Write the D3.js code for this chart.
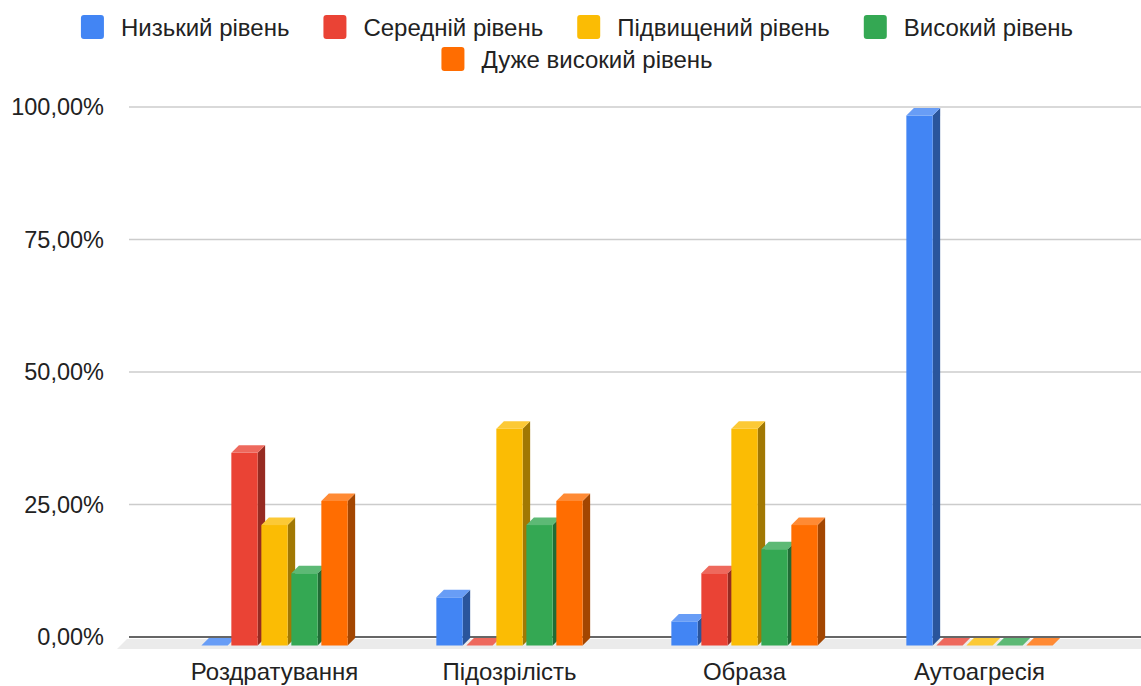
<!DOCTYPE html>
<html>
<head>
<meta charset="utf-8">
<script src="https://cdn.jsdelivr.net/npm/d3@7"></script>
<style>
  html, body { margin: 0; padding: 0; background: #fff; }
  svg { display: block; }
  text { font-family: "Liberation Sans", Arial, sans-serif; fill: #222; }
</style>
</head>
<body>
<svg id="chart" width="1141" height="686"></svg>
<script>
// Categories and series
const categories = ["Роздратування", "Підозрілість", "Образа", "Аутоагресія"];
const seriesNames = ["Низький рівень", "Середній рівень", "Підвищений рівень", "Високий рівень", "Дуже високий рівень"];
const seriesColors = ["#4285f4", "#ea4335", "#fbbc04", "#34a853", "#ff6d01"];

// Share of respondents per level, %
const lowLevel      = [0,     9.09,  4.55,  100];
const mediumLevel   = [36.36, 0,     13.64, 0];
const elevatedLevel = [22.73, 40.91, 40.91, 0];
const highLevel     = [13.64, 22.73, 18.18, 0];
const veryHighLevel = [27.27, 27.27, 22.73, 0];
const seriesValues = [lowLevel, mediumLevel, elevatedLevel, highLevel, veryHighLevel];

const yTicks = [0, 25, 50, 75, 100];

const W = 1141, H = 686;
const svg = d3.select("#chart");

// Back wall (gridline plane) geometry
const wallLeft = 129, wallRight = W;
const y = d3.scaleLinear().domain([0, 100]).range([637, 107]);

// Depth offsets (down-left shift toward the viewer)
const backOff = 1, frontOff = 8.5, floorBack = 2, floorFront = 12;
const depth = frontOff - backOff;

// Category bands on the front plane
const x0 = d3.scaleBand().domain(categories).range([157, 1097]);
const groupW = 146.3;
const x1 = d3.scaleBand().domain(seriesNames).range([0, groupW]).paddingInner(0.123);

const ukLocale = d3.formatLocale({ decimal: ",", thousands: " ", grouping: [3], currency: ["", ""] });
const fmt = v => ukLocale.format(".2f")(v) + "%";

// Gridlines
svg.append("g").selectAll("line").data(yTicks.filter(t => t > 0)).join("line")
  .attr("x1", wallLeft).attr("x2", wallRight)
  .attr("y1", d => y(d)).attr("y2", d => y(d))
  .attr("stroke", "#cccccc").attr("stroke-width", 1.5);

// Floor
svg.append("polygon")
  .attr("points", [
    [wallLeft - floorBack, y(0) + floorBack],
    [wallRight + 20, y(0) + floorBack],
    [wallRight + 20 - floorFront, y(0) + floorFront],
    [wallLeft - floorFront, y(0) + floorFront]
  ].map(p => p.join(",")).join(" "))
  .attr("fill", "#ebebeb");

// Baseline
svg.append("line")
  .attr("x1", wallLeft).attr("x2", wallRight)
  .attr("y1", y(0)).attr("y2", y(0))
  .attr("stroke", "#333").attr("stroke-width", 1.5);

// Y tick labels
svg.append("g").selectAll("text").data(yTicks).join("text")
  .attr("x", 104).attr("y", d => y(d))
  .attr("text-anchor", "end").attr("dominant-baseline", "central")
  .attr("font-size", 23.5)
  .text(fmt);

// Bars as 3D boxes
const bars = [];
categories.forEach((c, i) => {
  seriesNames.forEach((s, j) => {
    bars.push({ c, s, j, v: seriesValues[j][i] });
  });
});
bars.sort((a, b) => (x0(a.c) + x1(a.s)) - (x0(b.c) + x1(b.s)));

const gBars = svg.append("g");
const w = x1.bandwidth();
bars.forEach(b => {
  const base = d3.color(seriesColors[b.j]);
  const top = d3.interpolateRgb(base, "#fff")(0.2);
  const side = d3.rgb(base.r * 0.64, base.g * 0.64, base.b * 0.64);
  const xl = x0(b.c) + (x0.bandwidth() - groupW) / 2 + x1(b.s);
  const yv = y(b.v), yb = y(0);
  const g = gBars.append("g");
  // right side face
  g.append("polygon").attr("points", [
    [xl + w, yv + frontOff], [xl + w + depth, yv + backOff],
    [xl + w + depth, yb + backOff], [xl + w, yb + frontOff]
  ].map(p => p.join(",")).join(" ")).attr("fill", side);
  // front face
  g.append("rect").attr("x", xl).attr("y", yv + frontOff)
    .attr("width", w).attr("height", yb - yv).attr("fill", base);
  // top face
  g.append("polygon").attr("points", [
    [xl, yv + frontOff], [xl + depth, yv + backOff],
    [xl + w + depth, yv + backOff], [xl + w, yv + frontOff]
  ].map(p => p.join(",")).join(" ")).attr("fill", top);
});

// Category labels
svg.append("g").selectAll("text").data(categories).join("text")
  .attr("x", d => x0(d) + x0.bandwidth() / 2)
  .attr("y", 680)
  .attr("text-anchor", "middle")
  .attr("font-size", 24)
  .text(d => d);

// Legend (two centred rows)
const legendRows = [[0, 1, 2, 3], [4]];
const rowY = [27, 59];
const swW = 23, swH = 24, swGap = 17, itemGap = 34, legendCx = 577;
legendRows.forEach((row, r) => {
  const g = svg.append("g");
  let cx = 0;
  row.forEach(j => {
    const item = g.append("g").attr("transform", `translate(${cx},0)`);
    item.append("rect").attr("x", 0).attr("y", rowY[r] - swH / 2)
      .attr("width", swW).attr("height", swH).attr("rx", 3)
      .attr("fill", seriesColors[j]);
    const t = item.append("text").attr("x", swW + swGap).attr("y", rowY[r])
      .attr("dominant-baseline", "central").attr("font-size", 24)
      .text(seriesNames[j]);
    cx += swW + swGap + t.node().getComputedTextLength() + itemGap;
  });
  const total = cx - itemGap;
  g.attr("transform", `translate(${legendCx - total / 2},0)`);
});
</script>
</body>
</html>
